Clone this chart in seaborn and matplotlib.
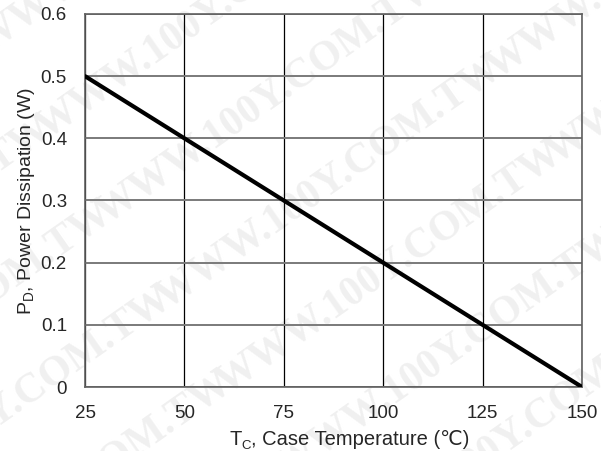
import matplotlib
matplotlib.use('Agg')
import matplotlib.pyplot as plt
import seaborn as sns
import pandas as pd

# ── Data: derating curve ─────────────────────────────────────────────────────
case_temp = [25, 150]          # T_C (°C)
power_diss = [0.5, 0.0]        # P_D (W)
x_ticks = [25, 50, 75, 100, 125, 150]
y_ticks = [0, 0.1, 0.2, 0.3, 0.4, 0.5, 0.6]
y_tick_labels = ['0', '0.1', '0.2', '0.3', '0.4', '0.5', '0.6']
watermark = 'WWW.100Y.COM.TW'

df = pd.DataFrame({'Tc': case_temp, 'Pd': power_diss})

sns.set_style('white')
plt.rcParams['font.family'] = ['Liberation Sans', 'DejaVu Sans']
plt.rcParams['mathtext.fontset'] = 'custom'
plt.rcParams['mathtext.rm'] = 'Liberation Sans'

W, H = 601, 451
fig = plt.figure(figsize=(W / 100, H / 100), dpi=100)
fig.patch.set_facecolor('white')

# faint tiled watermark behind everything
for row in range(-3, 7):
    for col in range(-1, 3):
        px = 40 + col * 330 + row * 60
        py = -60 + col * 230 - row * 85 + 380
        fig.text(px / W, py / H, watermark, fontsize=30, fontweight='bold',
                 family=['Liberation Serif', 'DejaVu Serif'], color='#f0f0f0',
                 rotation=35, rotation_mode='anchor', ha='left', va='center',
                 zorder=-5)

# axes box: left 85, right 582, top 14, bottom 387 (pixels)
ax = fig.add_axes([85 / W, (H - 387) / H, (582 - 85) / W, (387 - 14) / H])
ax.set_facecolor('none')
ax.set_zorder(1)

sns.lineplot(data=df, x='Tc', y='Pd', ax=ax, color='black', linewidth=3, zorder=5)

ax.set_xlim(25, 150)
ax.set_ylim(0, 0.6)
ax.set_xticks(x_ticks)
ax.set_yticks(y_ticks)
ax.set_yticklabels(y_tick_labels)

# grid: vertical black, horizontal grey
for xv in x_ticks:
    ax.axvline(xv, color='black', linewidth=0.9, zorder=1)
for yv in y_ticks:
    ax.axhline(yv, color='#7a7a7a', linewidth=1.4, zorder=1)

for sp in ax.spines.values():
    sp.set_visible(True)
    sp.set_color('#606060')
    sp.set_linewidth(1.2)

ax.tick_params(axis='x', length=0, pad=13, labelsize=13.5)
ax.tick_params(axis='y', length=0, pad=13, labelsize=13.5)
ax.set_xlabel('')
ax.set_ylabel(r'P$_\mathrm{D}$, Power Dissipation (W)', fontsize=14, labelpad=3)

# x label built from plain text pieces so the ℃ glyph can fall back to DejaVu
t_main = fig.text(229 / W, 1 - 449 / H, 'T', fontsize=14.5, va='bottom', ha='left')
plt.annotate('C', xy=(1, 0), xycoords=t_main, xytext=(0.3, -2.5),
             textcoords='offset points', fontsize=9.5, va='bottom', ha='left',
             annotation_clip=False)
plt.annotate(', Case Temperature (℃)', xy=(1, 0), xycoords=t_main, xytext=(7, 0),
             textcoords='offset points', fontsize=14.5, va='bottom', ha='left',
             annotation_clip=False)

plt.savefig('out.png', dpi=100)
plt.close(fig)
